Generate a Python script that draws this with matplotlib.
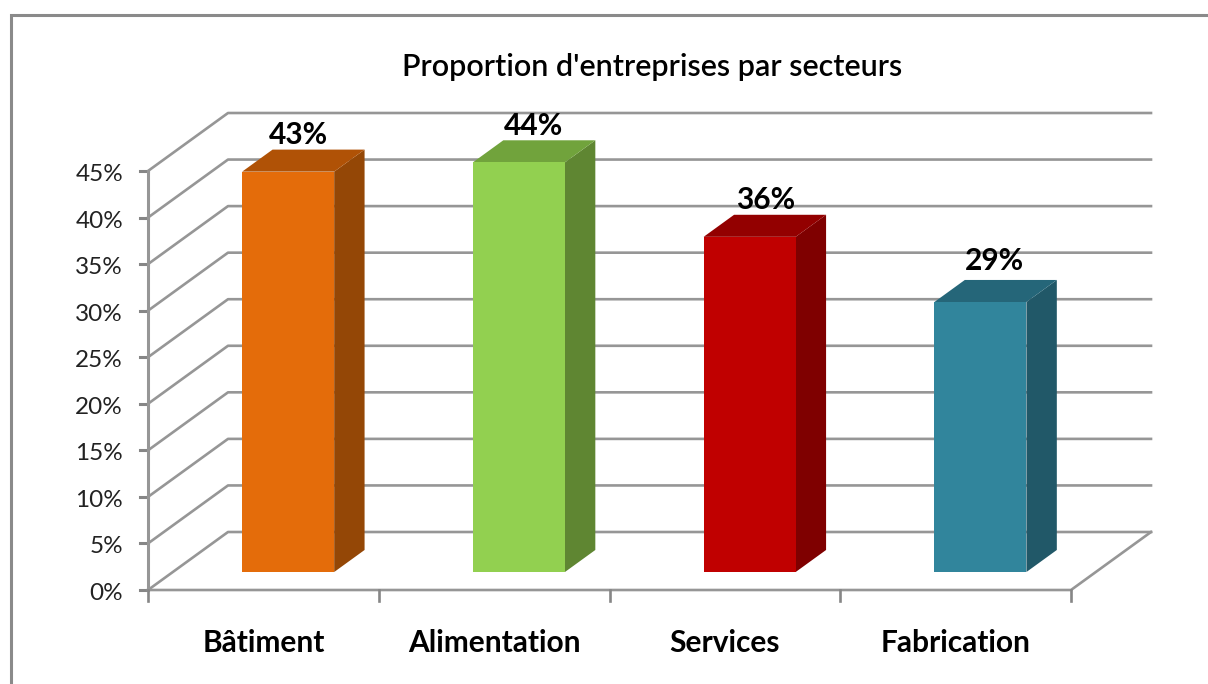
import matplotlib
matplotlib.use('Agg')

import matplotlib.pyplot as plt
from matplotlib.patches import Rectangle

categories = ['Bâtiment', 'Alimentation', 'Services', 'Fabrication']
values = [43, 44, 36, 29]
labels = ['43%', '44%', '36%', '29%']
yticks = [0, 5, 10, 15, 20, 25, 30, 35, 40, 45]
front_colors = ['#e46c0a', '#92d050', '#c00000', '#31859c']
top_colors = ['#b05206', '#71a33c', '#930000', '#256679']
side_colors = ['#944706', '#5f8632', '#7f0000', '#215868']

W, H = 1208, 684
GRID = '#969696'

fig = plt.figure(figsize=(W / 100, H / 100), dpi=100)
plt.rcParams['font.family'] = ['Lato', 'DejaVu Sans']

# axes box = front plane of the fake 3d chart
ax = fig.add_axes([148 / W, 1 - 590 / H, (1071 - 148) / W, (590 - 171) / H])
ax.set_xlim(0, 4)
ax.set_ylim(0, 45)
ax.axis('off')

# depth vector of the floor, in data units
dx = 80 / 230.75
dy = 58 / 9.311

for y in yticks:
    ax.plot([0, dx, 4 + dx], [y, y + dy, y + dy], color=GRID, lw=1.9, clip_on=False, zorder=1)
    ax.plot([-8 / 230.75, 0], [y, y], color='#868686', lw=2.2, clip_on=False, zorder=1)
    ax.text(-25 / 230.75, y - 3.5 / 9.311, '%d%%' % y, ha='right', va='center', fontsize=17.5, color='#222222', clip_on=False)

ax.plot([0, 0], [0, 45], color=GRID, lw=2.2, clip_on=False, zorder=2)
ax.plot([0, 4, 4 + dx], [0, 0, dy], color=GRID, lw=1.9, clip_on=False, zorder=2)
for i in range(5):
    ax.plot([i, i], [0, -11 / 9.311], color='#868686', lw=1.9, clip_on=False, zorder=2)

# the labels do not sit at the same place on each bar
label_dx = [10, 15, 16, 14]
label_dy = [15, 14, 15, 19]

# bars sit in the middle of the floor depth
front = 0.31
depth = 0.38
bw = 92 / 230.75
for i, v in enumerate(values):
    x0 = i + 0.5 + front * dx - bw / 2
    x1 = x0 + bw
    y0 = front * dy
    y1 = y0 + v
    ddx = depth * dx
    ddy = depth * dy
    ax.bar(x0 + bw / 2, v, bw, bottom=y0, color=front_colors[i], zorder=5, clip_on=False)
    ax.fill([x1, x1 + ddx, x1 + ddx, x1], [y0, y0 + ddy, y1 + ddy, y1], color=side_colors[i], lw=0, zorder=4, clip_on=False)
    ax.fill([x0, x0 + ddx, x1 + ddx, x1], [y1, y1 + ddy, y1 + ddy, y1], color=top_colors[i], lw=0, zorder=4, clip_on=False)
    ax.text(x0 + bw / 2 + label_dx[i] / 230.75, y1 + ddy + label_dy[i] / 9.311, labels[i], ha='center', va='center',
            fontsize=21.5, fontweight='bold', color='black', clip_on=False, zorder=6)
    ax.text(i + 0.5, -53 / 9.311, categories[i], ha='center', va='center',
            fontsize=21.5, fontweight='bold', color='black', clip_on=False)

fig.text(652 / W, 1 - 67 / H, "Proportion d'entreprises par secteurs", ha='center', va='center',
         fontsize=22, fontweight='semibold', color='black')

# chart border, open at the bottom and right
fig.add_artist(Rectangle((10.5 / W, -0.1), 1300 / W, 1 - 15 / H + 0.1, transform=fig.transFigure,
                         fill=False, edgecolor='#8a8a8a', lw=2.2))

fig.savefig('out.png', dpi=100)
